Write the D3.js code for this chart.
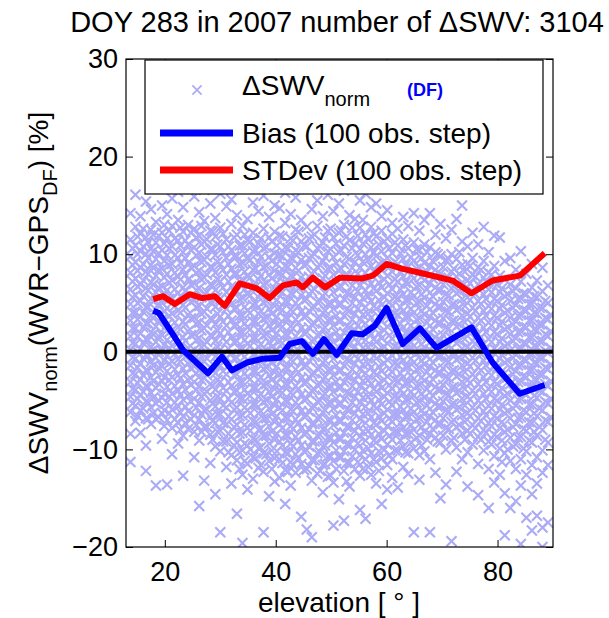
<!DOCTYPE html>
<html>
<head>
<meta charset="UTF-8">
<script src="https://d3js.org/d3.v7.min.js"></script>
<style>
  body { margin: 0; background: #fff; }
  text { font-family: "Liberation Sans", Arial, Helvetica, sans-serif; }
</style>
</head>
<body>
<svg></svg>
<script>
const obsElevA = [13.8, 14.7, 15.6, 16.6, 17.5, 18.4, 19.5, 20.4, 21.3, 22.4, 23.3, 24.2, 25.3, 26.2, 27.1, 28.2, 29.1, 30.0, 31.1, 32.0,
  33.0, 34.0, 34.9, 35.9, 36.9, 37.8, 38.8, 39.8, 40.7, 41.7, 42.7, 43.6, 44.6, 45.6, 46.5, 47.5, 48.5, 49.4, 50.4, 51.4,
  52.3, 53.3, 54.3, 55.2, 56.2, 57.2, 58.1, 59.1, 60.1, 61.0, 62.0, 63.0, 63.9, 64.9, 65.9, 66.8, 67.8, 68.8, 69.7, 70.7,
  71.7, 72.6, 73.6, 74.6, 75.5, 76.5, 77.5, 78.4, 79.4, 80.4, 81.3, 82.3, 83.3, 84.2, 85.2, 86.2, 87.1, 88.1, 89.1];
const obsSwvA = [
  [14.2, 11.5, 9.8, 8.1, 6.4, 4.9, 3.2, 1.6, 0.2, -1.4, -3.1, -4.6, -6.2, -8.4, -11.3],
  [16.1, 12.8, 10.9, 9.2, 7.5, 5.8, 4.0, 2.4, 0.8, -0.7, -2.3, -3.9, -5.5, -7.1],
  [13.9, 12.1, 10.3, 8.6, 6.9, 5.2, 3.6, 1.9, 0.3, -1.2, -2.8, -4.4, -6.0, -8.3],
  [15.4, 11.7, 10.0, 8.2, 6.5, 4.6, 2.9, 1.3, -0.3, -1.9, -3.5, -5.1, -6.8, -9.6, -12.2],
  [14.6, 12.5, 10.6, 8.9, 7.1, 5.4, 3.7, 2.0, 0.5, -1.0, -2.6, -4.2, -5.7, -7.4],
  [16.8, 13.3, 11.2, 9.5, 7.8, 6.1, 4.3, 2.6, 1.0, -0.6, -2.1, -3.7, -5.3, -6.9, -13.7],
  [15.0, 12.2, 10.4, 8.5, 6.7, 5.0, 3.3, 1.7, 0.1, -1.5, -3.0, -4.7, -6.3, -8.9],
  [17.2, 14.1, 11.6, 9.9, 8.0, 6.3, 4.5, 2.8, 1.2, -0.4, -2.0, -3.6, -5.2, -7.0, -13.6],
  [15.7, 12.9, 10.8, 9.0, 7.3, 5.5, 3.9, 2.2, 0.6, -1.0, -2.6, -4.3, -5.9, -7.8, -10.5],
  [16.4, 13.5, 11.4, 9.6, 7.7, 6.0, 4.2, 2.5, 0.9, -0.8, -2.4, -4.0, -5.6, -7.3, -9.4],
  [14.8, 12.3, 10.2, 8.4, 6.6, 4.8, 3.1, 1.5, -0.1, -1.7, -3.3, -4.9, -6.6, -8.6, -12.7],
  [17.5, 13.0, 11.0, 9.1, 7.4, 5.6, 3.8, 2.1, 0.4, -1.2, -2.9, -4.5, -6.1, -7.9],
  [15.9, 12.6, 10.7, 8.8, 7.0, 5.3, 3.5, 1.8, 0.2, -1.5, -3.1, -4.8, -6.5, -8.2, -10.8],
  [14.3, 11.9, 10.1, 8.3, 6.5, 4.7, 3.0, 1.4, -0.2, -1.9, -3.5, -5.2, -6.9, -9.1, -15.8],
  [16.6, 13.4, 11.3, 9.4, 7.6, 5.9, 4.1, 2.4, 0.7, -1.0, -2.7, -4.3, -6.0, -7.7, -13.2],
  [15.2, 12.4, 10.5, 8.7, 6.9, 5.1, 3.4, 1.7, 0.0, -1.6, -3.3, -5.0, -6.7, -8.5, -11.4],
  [13.7, 11.8, 9.9, 8.1, 6.3, 4.6, 2.8, 1.1, -0.5, -2.2, -3.9, -5.6, -7.3, -9.7, -14.6],
  [16.2, 12.7, 10.8, 9.0, 7.2, 5.4, 3.6, 1.9, 0.2, -1.4, -3.1, -4.8, -6.4, -8.1, -10.2, -18.5],
  [14.9, 11.5, 9.6, 7.9, 6.1, 4.4, 2.7, 1.0, -0.6, -2.3, -4.0, -5.7, -7.4, -9.2, -11.8],
  [15.6, 13.1, 10.4, 8.5, 6.7, 4.9, 3.2, 1.5, -0.2, -1.8, -3.5, -5.2, -6.9, -8.7, -10.6, -13.5],
  [14.0, 12.0, 9.8, 8.0, 6.2, 4.5, 2.8, 1.1, -0.6, -2.3, -4.0, -5.7, -7.5, -9.3, -11.1, -16.6],
  [16.9, 12.9, 10.9, 9.1, 7.3, 5.5, 3.7, 2.0, 0.3, -1.4, -3.1, -4.8, -6.5, -8.3, -10.1, -12.6, -19.6],
  [13.6, 11.4, 9.5, 7.7, 5.9, 4.2, 2.5, 0.8, -0.9, -2.6, -4.3, -6.0, -7.8, -9.6, -11.5, -14.1],
  [15.3, 12.2, 10.3, 8.4, 6.6, 4.8, 3.1, 1.4, -0.3, -2.0, -3.7, -5.4, -7.1, -8.9, -10.8, -13.0],
  [14.4, 11.1, 9.2, 7.4, 5.6, 3.9, 2.2, 0.5, -1.2, -2.9, -4.6, -6.3, -8.0, -9.9, -11.9],
  [16.0, 12.6, 10.6, 8.7, 6.9, 5.1, 3.4, 1.7, 0.0, -1.7, -3.4, -5.1, -6.8, -8.6, -10.4, -12.3, -18.5],
  [13.8, 11.7, 9.7, 7.9, 6.1, 4.4, 2.7, 1.0, -0.7, -2.4, -4.1, -5.8, -7.6, -9.4, -11.2, -14.8],
  [15.0, 12.3, 10.1, 8.3, 6.5, 4.7, 3.0, 1.3, -0.4, -2.1, -3.8, -5.5, -7.2, -9.0, -10.9, -13.3],
  [14.7, 11.9, 9.9, 8.0, 6.2, 4.5, 2.8, 1.1, -0.6, -2.3, -4.0, -5.7, -7.4, -9.2, -11.0, -12.9],
  [16.3, 13.2, 10.7, 8.8, 7.0, 5.2, 3.5, 1.8, 0.1, -1.6, -3.3, -5.0, -6.7, -8.5, -10.3, -12.1, -15.6],
  [14.1, 11.6, 9.6, 7.8, 6.0, 4.3, 2.6, 0.9, -0.8, -2.5, -4.2, -5.9, -7.6, -9.4, -11.3, -13.7],
  [15.8, 12.5, 10.4, 8.6, 6.8, 5.0, 3.3, 1.6, -0.1, -1.8, -3.5, -5.2, -6.9, -8.7, -10.5, -12.4],
  [13.5, 11.3, 9.4, 7.6, 5.8, 4.1, 2.4, 0.7, -1.0, -2.7, -4.4, -6.1, -7.8, -9.6, -11.5, -16.9],
  [16.7, 12.8, 10.8, 9.0, 7.2, 5.4, 3.7, 2.0, 0.3, -1.4, -3.1, -4.8, -6.5, -8.3, -10.1, -12.0, -18.2],
  [14.6, 11.8, 9.8, 8.0, 6.2, 4.5, 2.8, 1.1, -0.6, -2.3, -4.0, -5.7, -7.4, -9.2, -11.1, -13.2, -19.0],
  [15.5, 12.9, 10.6, 8.7, 6.9, 5.1, 3.4, 1.7, 0.0, -1.7, -3.4, -5.1, -6.8, -8.6, -10.4, -12.5],
  [13.9, 11.2, 9.3, 7.5, 5.7, 4.0, 2.3, 0.6, -1.1, -2.8, -4.5, -6.2, -7.9, -9.7, -11.6, -14.4],
  [16.1, 12.4, 10.3, 8.5, 6.7, 4.9, 3.2, 1.5, -0.2, -1.9, -3.6, -5.3, -7.0, -8.8, -10.7, -12.8],
  [14.4, 11.7, 9.7, 7.9, 6.1, 4.4, 2.7, 1.0, -0.7, -2.4, -4.1, -5.8, -7.5, -9.3, -11.2, -13.4, -17.8],
  [15.2, 12.2, 10.2, 8.3, 6.5, 4.8, 3.1, 1.4, -0.3, -2.0, -3.7, -5.4, -7.1, -8.9, -10.8, -15.1],
  [16.5, 13.0, 10.9, 9.0, 7.2, 5.4, 3.7, 2.0, 0.3, -1.4, -3.1, -4.8, -6.5, -8.3, -10.2, -12.2, -17.3],
  [14.0, 11.4, 9.5, 7.7, 5.9, 4.2, 2.5, 0.8, -0.9, -2.6, -4.3, -6.0, -7.7, -9.5, -11.4, -13.8],
  [17.0, 13.6, 11.1, 9.2, 7.4, 5.6, 3.9, 2.2, 0.5, -1.2, -2.9, -4.6, -6.3, -8.1, -10.0, -12.0],
  [15.5, 12.7, 10.5, 8.6, 6.8, 5.0, 3.3, 1.6, -0.1, -1.8, -3.5, -5.2, -6.9, -8.7, -10.6, -12.7, -16.2],
  [16.2, 12.0, 10.0, 8.1, 6.3, 4.6, 2.9, 1.2, -0.5, -2.2, -3.9, -5.6, -7.3, -9.1, -11.0, -17.1],
  [14.8, 12.8, 10.7, 8.8, 7.0, 5.2, 3.5, 1.8, 0.1, -1.6, -3.3, -5.0, -6.7, -8.5, -10.4, -12.6],
  [15.2, 11.8, 9.8, 8.0, 6.2, 4.4, 2.7, 1.0, -0.7, -2.4, -4.1, -5.8, -7.5, -9.3, -11.3, -13.5],
  [13.9, 12.4, 10.3, 8.4, 6.6, 4.8, 3.1, 1.4, -0.3, -2.0, -3.7, -5.4, -7.1, -8.9, -10.9, -15.6],
  [14.5, 11.6, 9.6, 7.8, 6.0, 4.3, 2.6, 0.9, -0.8, -2.5, -4.2, -5.9, -7.6, -9.5, -11.6, -14.1],
  [13.2, 12.1, 10.1, 8.2, 6.4, 4.7, 3.0, 1.3, -0.4, -2.1, -3.8, -5.5, -7.2, -9.0, -11.0, -12.9],
  [12.6, 10.9, 9.0, 7.2, 5.5, 3.8, 2.1, 0.4, -1.3, -3.0, -4.7, -6.4, -8.2, -10.1, -13.9],
  [13.8, 11.5, 9.5, 7.7, 5.9, 4.2, 2.5, 0.8, -0.9, -2.6, -4.3, -6.0, -7.8, -9.7, -11.8],
  [12.9, 10.6, 8.8, 7.0, 5.3, 3.6, 1.9, 0.2, -1.5, -3.2, -4.9, -6.6, -8.4, -10.4, -12.5],
  [14.2, 11.2, 9.3, 7.5, 5.7, 4.0, 2.3, 0.6, -1.1, -2.8, -4.5, -6.2, -8.0, -9.9, -18.5],
  [12.4, 10.4, 8.6, 6.8, 5.1, 3.4, 1.7, 0.0, -1.7, -3.4, -5.1, -6.8, -8.6, -10.6, -13.1],
  [13.5, 11.0, 9.1, 7.3, 5.5, 3.8, 2.1, 0.4, -1.3, -3.0, -4.7, -6.4, -8.2, -10.2],
  [14.2, 10.7, 8.8, 7.0, 5.3, 3.6, 1.9, 0.2, -1.5, -3.2, -4.9, -6.6, -8.4, -11.0, -18.5],
  [12.0, 10.2, 8.4, 6.6, 4.9, 3.2, 1.5, -0.2, -1.9, -3.6, -5.3, -7.0, -8.8, -12.4],
  [13.1, 9.8, 8.0, 6.3, 4.6, 2.9, 1.2, -0.5, -2.2, -3.9, -5.6, -7.4, -9.3, -15.0],
  [11.6, 9.4, 7.6, 5.9, 4.2, 2.5, 0.8, -0.9, -2.6, -4.3, -6.0, -7.8, -10.0, -13.6],
  [12.5, 10.0, 8.2, 6.5, 4.8, 3.1, 1.4, -0.3, -2.0, -3.7, -5.4, -7.2, -9.1, -19.4],
  [13.6, 9.5, 7.7, 6.0, 4.3, 2.6, 0.9, -0.8, -2.5, -4.2, -5.9, -7.7, -9.8, -12.3],
  [15.0, 11.3, 8.9, 7.1, 5.4, 3.7, 2.0, 0.3, -1.4, -3.1, -4.8, -6.5, -8.4, -11.0],
  [10.8, 9.0, 7.3, 5.6, 3.9, 2.2, 0.5, -1.2, -2.9, -4.6, -6.3, -8.1, -10.3, -13.8],
  [12.2, 9.6, 7.9, 6.2, 4.5, 2.8, 1.1, -0.6, -2.3, -4.0, -5.7, -7.5, -9.5],
  [11.0, 8.6, 6.9, 5.2, 3.5, 1.8, 0.1, -1.6, -3.3, -5.0, -6.8, -8.7, -11.5, -14.7],
  [12.8, 9.3, 7.6, 5.9, 4.2, 2.5, 0.8, -0.9, -2.6, -4.3, -6.1, -8.0, -10.1],
  [10.2, 8.1, 6.4, 4.7, 3.0, 1.3, -0.4, -2.1, -3.8, -5.5, -7.3, -9.2, -12.0, -16.0],
  [11.9, 8.8, 7.1, 5.4, 3.7, 2.0, 0.3, -1.4, -3.1, -4.8, -6.6, -8.5, -10.7, -13.4],
  [11.7, 7.8, 6.1, 4.4, 2.7, 1.0, -0.7, -2.4, -4.1, -5.9, -7.8, -9.9, -12.6],
  [9.3, 7.4, 5.7, 4.0, 2.3, 0.6, -1.1, -2.8, -4.5, -6.3, -8.2, -10.4, -14.5, -18.8],
  [9.6, 6.9, 5.2, 3.5, 1.8, 0.1, -1.6, -3.3, -5.0, -6.8, -8.8, -11.2, -16.0],
  [8.4, 6.5, 4.8, 3.1, 1.4, -0.3, -2.0, -3.7, -5.5, -7.4, -9.5, -12.0, -15.3],
  [10.3, 7.2, 5.5, 3.8, 2.1, 0.4, -1.3, -3.0, -4.8, -6.7, -8.7, -11.0, -13.7, -19.7],
  [8.0, 5.9, 4.2, 2.5, 0.8, -0.9, -2.6, -4.4, -6.2, -8.1, -10.2, -12.6, -17.0],
  [9.0, 6.6, 4.9, 3.2, 1.5, -0.2, -1.9, -3.6, -5.4, -7.3, -9.3, -11.6, -14.6, -18.3],
  [7.3, 5.6, 3.9, 2.2, 0.5, -1.2, -2.9, -4.7, -6.6, -8.6, -10.8, -13.5, -16.8],
  [8.6, 6.2, 4.5, 2.8, 1.1, -0.6, -2.3, -4.1, -6.0, -8.0, -10.1, -12.4, -18.0, -20.0],
  [6.8, 5.0, 3.3, 1.6, -0.1, -1.8, -3.5, -5.3, -7.2, -9.3, -11.6, -17.5]
];
// second pass over the dense core, columns between the first ones
const obsElevB = [14.2, 15.1, 16.1, 17.0, 17.9, 18.9, 19.9, 20.8, 21.8, 22.8, 23.7, 24.7, 25.7, 26.6, 27.6, 28.6, 29.5, 30.5, 31.5, 32.5,
  33.5, 34.4, 35.4, 36.4, 37.3, 38.3, 39.3, 40.2, 41.2, 42.2, 43.1, 44.1, 45.1, 46.0, 47.0, 48.0, 48.9, 49.9, 50.9, 51.8,
  52.8, 53.8, 54.8, 55.7, 56.7, 57.7, 58.6, 59.6, 60.5, 61.5, 62.5, 63.4, 64.4, 65.4, 66.3, 67.3, 68.3, 69.2, 70.2, 71.2,
  72.1, 73.1, 74.1, 75.0, 76.0, 77.0, 77.9, 78.9, 79.9, 80.8, 81.8, 82.8, 83.7, 84.7, 85.7, 86.6, 87.6, 88.6, 89.6];
const obsSwvB = [
  [10.6, 8.9, 7.2, 5.6, 4.0, 2.4, 0.9, -0.6, -2.2, -3.8, -5.3],
  [11.8, 10.0, 8.3, 6.7, 5.0, 3.3, 1.6, 0.0, -1.6, -3.2, -4.8, -6.6],
  [12.6, 10.8, 9.0, 7.3, 5.7, 4.1, 2.5, 0.9, -0.7, -2.4, -4.1, -5.8],
  [11.2, 9.6, 8.0, 6.3, 4.6, 2.9, 1.2, -0.4, -2.0, -3.6, -5.2, -6.9],
  [12.0, 10.3, 8.6, 6.9, 5.2, 3.5, 1.8, 0.2, -1.4, -3.0, -4.7, -6.3],
  [11.9, 10.1, 8.4, 6.6, 4.9, 3.2, 1.6, 0.0, -1.6, -3.3, -5.0, -6.7],
  [13.0, 11.1, 9.3, 7.6, 5.8, 4.1, 2.4, 0.7, -0.9, -2.6, -4.3, -6.0, -7.6],
  [12.4, 10.6, 8.9, 7.1, 5.4, 3.7, 2.0, 0.4, -1.2, -2.9, -4.6, -6.3],
  [11.6, 9.9, 8.1, 6.4, 4.7, 3.0, 1.4, -0.2, -1.8, -3.5, -5.2, -6.9],
  [12.7, 10.9, 9.1, 7.4, 5.7, 4.0, 2.3, 0.6, -1.0, -2.7, -4.4, -6.2, -8.0],
  [11.4, 9.6, 7.9, 6.2, 4.5, 2.8, 1.1, -0.5, -2.2, -3.9, -5.6, -7.3],
  [12.2, 10.4, 8.6, 6.9, 5.1, 3.4, 1.7, 0.0, -1.7, -3.4, -5.1, -6.9],
  [11.7, 9.9, 8.1, 6.3, 4.6, 2.9, 1.2, -0.5, -2.2, -3.9, -5.7, -7.5],
  [12.9, 11.0, 9.2, 7.4, 5.6, 3.9, 2.2, 0.5, -1.2, -2.9, -4.6, -6.4, -8.2],
  [11.5, 9.7, 7.9, 6.1, 4.4, 2.7, 1.0, -0.7, -2.4, -4.1, -5.9, -7.7],
  [12.3, 10.5, 8.6, 6.8, 5.0, 3.3, 1.6, -0.1, -1.8, -3.5, -5.3, -7.1, -9.0],
  [11.0, 9.2, 7.4, 5.6, 3.9, 2.2, 0.5, -1.2, -2.9, -4.6, -6.4, -8.2],
  [12.1, 10.2, 8.4, 6.6, 4.8, 3.1, 1.4, -0.3, -2.0, -3.7, -5.5, -7.3, -9.2],
  [10.8, 9.0, 7.2, 5.4, 3.7, 2.0, 0.3, -1.4, -3.1, -4.8, -6.6, -8.4, -10.3],
  [11.7, 9.8, 8.0, 6.2, 4.4, 2.7, 1.0, -0.7, -2.4, -4.1, -5.9, -7.7, -9.6],
  [10.9, 9.0, 7.2, 5.4, 3.7, 2.0, 0.3, -1.4, -3.1, -4.8, -6.6, -8.4, -10.3, -12.0],
  [12.0, 10.1, 8.2, 6.4, 4.6, 2.9, 1.2, -0.5, -2.2, -3.9, -5.7, -7.5, -9.4, -11.2],
  [11.3, 9.4, 7.6, 5.8, 4.0, 2.3, 0.6, -1.1, -2.8, -4.5, -6.3, -8.1, -10.0],
  [10.4, 8.5, 6.7, 4.9, 3.1, 1.4, -0.3, -2.0, -3.7, -5.4, -7.2, -9.0, -10.9],
  [11.6, 9.7, 7.8, 6.0, 4.2, 2.5, 0.8, -0.9, -2.6, -4.3, -6.1, -7.9, -9.8, -11.6],
  [10.7, 8.8, 7.0, 5.2, 3.5, 1.8, 0.1, -1.6, -3.3, -5.0, -6.8, -8.6, -10.5],
  [11.3, 9.3, 7.5, 5.7, 3.9, 2.2, 0.5, -1.2, -2.9, -4.6, -6.4, -8.2, -10.1, -12.0],
  [10.9, 9.0, 7.1, 5.3, 3.6, 1.9, 0.2, -1.5, -3.2, -4.9, -6.6, -8.4, -10.2],
  [11.8, 9.8, 7.9, 6.1, 4.3, 2.6, 0.9, -0.8, -2.5, -4.2, -6.0, -7.8, -9.6, -11.4],
  [10.6, 8.7, 6.9, 5.1, 3.4, 1.7, 0.0, -1.7, -3.4, -5.1, -6.8, -8.6, -10.4, -12.3],
  [11.4, 9.5, 7.7, 5.9, 4.1, 2.4, 0.7, -1.0, -2.7, -4.4, -6.1, -7.9, -9.7, -11.6],
  [12.3, 10.2, 8.3, 6.5, 4.7, 3.0, 1.3, -0.4, -2.1, -3.8, -5.5, -7.3, -9.1, -10.9],
  [10.9, 8.9, 7.1, 5.3, 3.6, 1.9, 0.2, -1.5, -3.2, -4.9, -6.6, -8.4, -10.2, -12.1],
  [11.6, 9.6, 7.7, 5.9, 4.2, 2.5, 0.8, -0.9, -2.6, -4.3, -6.1, -7.9, -9.7, -11.7],
  [12.0, 10.0, 8.2, 6.4, 4.6, 2.9, 1.2, -0.5, -2.2, -3.9, -5.6, -7.4, -9.2, -11.1],
  [10.8, 8.9, 7.0, 5.2, 3.5, 1.8, 0.1, -1.6, -3.3, -5.0, -6.7, -8.5, -10.3, -12.2],
  [11.7, 9.7, 7.8, 6.0, 4.2, 2.5, 0.8, -0.9, -2.6, -4.3, -6.0, -7.8, -9.6, -11.5],
  [12.6, 10.5, 8.6, 6.8, 5.0, 3.3, 1.6, -0.1, -1.8, -3.5, -5.2, -7.0, -8.8, -10.7, -12.7],
  [11.1, 9.1, 7.2, 5.4, 3.7, 2.0, 0.3, -1.4, -3.1, -4.8, -6.5, -8.3, -10.1, -12.0],
  [12.4, 10.4, 8.5, 6.7, 4.9, 3.2, 1.5, -0.2, -1.9, -3.6, -5.3, -7.1, -8.9, -10.8],
  [11.8, 9.7, 7.8, 6.0, 4.3, 2.6, 0.9, -0.8, -2.5, -4.2, -5.9, -7.7, -9.5, -11.4, -13.3],
  [12.7, 10.6, 8.6, 6.8, 5.0, 3.3, 1.6, -0.1, -1.8, -3.5, -5.2, -7.0, -8.8, -10.7],
  [11.9, 9.9, 8.0, 6.2, 4.4, 2.7, 1.0, -0.7, -2.4, -4.1, -5.8, -7.6, -9.4, -11.3],
  [13.5, 11.1, 9.2, 7.3, 5.5, 3.8, 2.1, 0.4, -1.3, -3.0, -4.7, -6.4, -8.2, -10.1, -12.0],
  [11.5, 9.4, 7.5, 5.7, 3.9, 2.2, 0.5, -1.2, -2.9, -4.6, -6.3, -8.1, -9.9, -11.8],
  [12.2, 10.2, 8.3, 6.5, 4.7, 3.0, 1.3, -0.4, -2.1, -3.8, -5.5, -7.3, -9.1, -11.0],
  [11.0, 9.0, 7.1, 5.3, 3.6, 1.9, 0.2, -1.5, -3.2, -4.9, -6.6, -8.4, -10.2, -12.2],
  [11.3, 9.3, 7.4, 5.6, 3.9, 2.2, 0.5, -1.2, -2.9, -4.6, -6.3, -8.1, -10.0],
  [10.6, 8.7, 6.9, 5.1, 3.4, 1.7, 0.0, -1.7, -3.4, -5.1, -6.8, -8.6, -10.6],
  [11.2, 9.2, 7.4, 5.6, 3.9, 2.2, 0.5, -1.2, -2.9, -4.6, -6.4, -8.2, -10.1],
  [10.1, 8.2, 6.4, 4.6, 2.9, 1.2, -0.5, -2.2, -3.9, -5.6, -7.3, -9.1],
  [10.9, 8.9, 7.1, 5.3, 3.6, 1.9, 0.2, -1.5, -3.2, -4.9, -6.6, -8.4, -10.3],
  [9.7, 7.9, 6.1, 4.4, 2.7, 1.0, -0.7, -2.4, -4.1, -5.8, -7.5, -9.3],
  [10.5, 8.5, 6.7, 5.0, 3.3, 1.6, -0.1, -1.8, -3.5, -5.2, -6.9, -8.8],
  [9.6, 7.7, 5.9, 4.2, 2.5, 0.8, -0.9, -2.6, -4.3, -6.0, -7.7, -9.6],
  [10.2, 8.2, 6.4, 4.7, 3.0, 1.3, -0.4, -2.1, -3.8, -5.5, -7.2, -9.0],
  [9.3, 7.5, 5.7, 4.0, 2.3, 0.6, -1.1, -2.8, -4.5, -6.2, -7.9],
  [10.0, 8.1, 6.3, 4.6, 2.9, 1.2, -0.5, -2.2, -3.9, -5.6, -7.4, -9.2],
  [8.7, 6.9, 5.1, 3.4, 1.7, 0.0, -1.7, -3.4, -5.1, -6.8, -8.6],
  [9.5, 7.6, 5.8, 4.1, 2.4, 0.7, -1.0, -2.7, -4.4, -6.1, -7.9],
  [8.5, 6.7, 4.9, 3.2, 1.5, -0.2, -1.9, -3.6, -5.3, -7.0, -8.8],
  [10.2, 8.0, 6.2, 4.5, 2.8, 1.1, -0.6, -2.3, -4.0, -5.7, -7.5],
  [8.2, 6.4, 4.7, 3.0, 1.3, -0.4, -2.1, -3.8, -5.5, -7.2, -9.0],
  [8.8, 7.0, 5.3, 3.6, 1.9, 0.2, -1.5, -3.2, -4.9, -6.6, -8.4],
  [7.7, 5.9, 4.2, 2.5, 0.8, -0.9, -2.6, -4.3, -6.0, -7.8],
  [8.4, 6.6, 4.9, 3.2, 1.5, -0.2, -1.9, -3.6, -5.3, -7.1, -9.0],
  [7.2, 5.4, 3.7, 2.0, 0.3, -1.4, -3.1, -4.8, -6.5, -8.3],
  [7.9, 6.1, 4.4, 2.7, 1.0, -0.7, -2.4, -4.1, -5.8, -7.6, -9.5],
  [6.9, 5.2, 3.5, 1.8, 0.1, -1.6, -3.3, -5.0, -6.8, -8.7],
  [6.5, 4.8, 3.1, 1.4, -0.3, -2.0, -3.7, -5.4, -7.2, -9.1, -11.3],
  [5.9, 4.2, 2.5, 0.8, -0.9, -2.6, -4.3, -6.1, -8.0, -10.0],
  [6.2, 4.5, 2.8, 1.1, -0.6, -2.3, -4.0, -5.8, -7.7, -9.7],
  [5.4, 3.7, 2.0, 0.3, -1.4, -3.1, -4.9, -6.8, -8.8],
  [6.0, 4.3, 2.6, 0.9, -0.8, -2.5, -4.2, -6.0, -7.9, -9.9],
  [4.9, 3.2, 1.5, -0.2, -1.9, -3.6, -5.4, -7.2, -9.1],
  [5.7, 4.0, 2.3, 0.6, -1.1, -2.8, -4.5, -6.3, -8.2],
  [4.5, 2.8, 1.1, -0.6, -2.3, -4.0, -5.8, -7.7],
  [5.2, 3.5, 1.8, 0.1, -1.6, -3.3, -5.1, -7.0, -9.0],
  [3.8, 2.1, 0.4, -1.3, -3.0, -4.8, -6.7]
];

// running statistics (100 obs. step)
const biasElev = [17.9, 18.9, 23.4, 27.8, 30.3, 32.1, 34.8, 37.7, 40.7, 42.5, 44.7, 46.7, 48.7, 51.0, 53.7, 55.7, 57.9, 60.0, 62.9, 66.0, 69.0, 75.3, 79.1, 84.0, 88.5];
const biasVal = [4.2, 4.0, 0.1, -2.2, -0.5, -1.9, -1.1, -0.7, -0.6, 0.8, 1.1, -0.2, 1.3, -0.3, 1.9, 1.8, 2.7, 4.5, 0.8, 2.4, 0.4, 2.5, -1.1, -4.3, -3.4];
const stdElev = [17.9, 19.7, 21.8, 24.5, 26.7, 29.0, 30.8, 33.5, 36.6, 38.9, 41.3, 43.8, 44.9, 46.7, 48.9, 51.6, 55.5, 57.5, 60.0, 62.9, 66.0, 71.9, 75.3, 79.1, 84.0, 88.5];
const stdVal = [5.4, 5.7, 4.9, 5.9, 5.5, 5.7, 4.7, 7.0, 6.5, 5.5, 6.8, 7.1, 6.6, 7.6, 6.6, 7.6, 7.5, 7.8, 9.0, 8.5, 8.1, 7.3, 6.0, 7.3, 7.8, 10.1];

const xTicks = [20, 40, 60, 80];
const yTicks = [-20, -10, 0, 10, 20, 30];

let width = 609, height = 618;
let svg = d3.select("svg").attr("width", width).attr("height", height);

let x = d3.scaleLinear().domain([13, 90]).range([126, 553]);
let y = d3.scaleLinear().domain([-20, 30]).range([547, 59]);

svg.append("clipPath").attr("id", "plotclip")
  .append("rect").attr("x", 126).attr("y", 59).attr("width", 427).attr("height", 488);

// flatten columns into points
let points = [];
obsElevA.forEach((e, i) => obsSwvA[i].forEach(v => points.push([e, v])));
obsElevB.forEach((e, i) => obsSwvB[i].forEach(v => points.push([e, v])));

const markColor = "#aaaaf6";
let s = 5;
let cross = (px, py, r) => `M${px - r},${py - r}L${px + r},${py + r}M${px + r},${py - r}L${px - r},${py + r}`;

svg.append("g").attr("clip-path", "url(#plotclip)")
  .selectAll("path")
  .data(points)
  .enter()
  .append("path")
  .attr("d", d => cross(x(d[0]), y(d[1]), s))
  .attr("stroke", markColor)
  .attr("stroke-width", 2.1)
  .attr("fill", "none");

// zero line
svg.append("line")
  .attr("x1", x(13)).attr("x2", x(90))
  .attr("y1", y(0)).attr("y2", y(0))
  .attr("stroke", "black").attr("stroke-width", 4);

let line = d3.line().x(d => x(d[0])).y(d => y(d[1]));

svg.append("path")
  .datum(biasElev.map((e, i) => [e, biasVal[i]]))
  .attr("d", line)
  .attr("fill", "none").attr("stroke", "#0000ff").attr("stroke-width", 6).attr("stroke-linejoin", "round");

svg.append("path")
  .datum(stdElev.map((e, i) => [e, stdVal[i]]))
  .attr("d", line)
  .attr("fill", "none").attr("stroke", "#ff0000").attr("stroke-width", 6).attr("stroke-linejoin", "round");

// axes, ticks inside the box on all four sides
let fs = "27px";
svg.append("g").attr("transform", "translate(0,547)")
  .call(d3.axisBottom(x).tickValues(xTicks).tickSizeInner(-7).tickSizeOuter(0).tickPadding(15))
  .call(g => g.select(".domain").remove())
  .call(g => g.selectAll("text").style("font-size", fs).attr("fill", "black"));
svg.append("g").attr("transform", "translate(0,59)")
  .call(d3.axisTop(x).tickValues(xTicks).tickSizeInner(-7).tickSizeOuter(0).tickFormat(""))
  .call(g => g.select(".domain").remove());
svg.append("g").attr("transform", "translate(126,0)")
  .call(d3.axisLeft(y).tickValues(yTicks).tickSizeInner(-7).tickSizeOuter(0).tickPadding(8))
  .call(g => g.select(".domain").remove())
  .call(g => g.selectAll("text").style("font-size", fs).attr("fill", "black"));
svg.append("g").attr("transform", "translate(553,0)")
  .call(d3.axisRight(y).tickValues(yTicks).tickSizeInner(-7).tickSizeOuter(0).tickFormat(""))
  .call(g => g.select(".domain").remove());
svg.selectAll(".tick line").attr("stroke", "black");

svg.append("rect")
  .attr("x", 126).attr("y", 59).attr("width", 427).attr("height", 488)
  .attr("fill", "none").attr("stroke", "black").attr("stroke-width", 1.2);

// title
svg.append("text")
  .attr("x", 337).attr("y", 32)
  .attr("text-anchor", "middle")
  .style("font-size", "29px")
  .text("DOY 283 in 2007 number of ΔSWV: 3104");

// x label
svg.append("text")
  .attr("x", 339).attr("y", 612)
  .attr("text-anchor", "middle")
  .style("font-size", "28px")
  .text("elevation [ ° ]");

// y label with subscripts
let yl = svg.append("text")
  .attr("transform", "translate(48,293) rotate(-90)")
  .attr("text-anchor", "middle")
  .style("font-size", "28px");
yl.append("tspan").text("ΔSWV");
yl.append("tspan").attr("dy", 9).style("font-size", "20px").text("norm");
yl.append("tspan").attr("dy", -9).text("(WVR−GPS");
yl.append("tspan").attr("dy", 9).style("font-size", "20px").text("DF");
yl.append("tspan").attr("dy", -9).text(") [%]");

// legend
let lg = svg.append("g");
lg.append("rect")
  .attr("x", 145).attr("y", 60).attr("width", 398).attr("height", 134)
  .attr("fill", "white").attr("stroke", "black").attr("stroke-width", 1.2);
lg.append("path")
  .attr("d", cross(197, 90, 4.6))
  .attr("stroke", markColor).attr("stroke-width", 1.7);
let t1 = lg.append("text").attr("x", 242).attr("y", 95).style("font-size", "28px");
t1.append("tspan").text("ΔSWV");
t1.append("tspan").attr("dy", 11).style("font-size", "20px").text("norm");
lg.append("text").attr("x", 407).attr("y", 96)
  .style("font-size", "18px").style("font-weight", "bold").attr("fill", "#0000ff")
  .text("(DF)");
lg.append("line").attr("x1", 160).attr("x2", 233).attr("y1", 133).attr("y2", 133)
  .attr("stroke", "#0000ff").attr("stroke-width", 7);
lg.append("text").attr("x", 242).attr("y", 143).style("font-size", "28px").text("Bias (100 obs. step)");
lg.append("line").attr("x1", 160).attr("x2", 233).attr("y1", 170).attr("y2", 170)
  .attr("stroke", "#ff0000").attr("stroke-width", 7);
lg.append("text").attr("x", 242).attr("y", 180).style("font-size", "28px").text("STDev (100 obs. step)");
</script>
</body>
</html>
